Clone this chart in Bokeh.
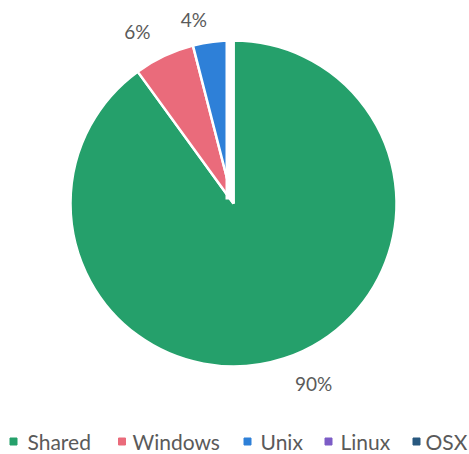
import math
from bokeh.plotting import figure
from bokeh.models import Range1d, ColumnDataSource
from bokeh.core.properties import value
from bokeh.embed import file_html
from bokeh.resources import INLINE

categories = ["Shared", "Windows", "Unix", "Linux", "OSX"]
shares = [90, 6, 4, 0, 0]
labels = ["90%", "6%", "4%", "", ""]
colors = ["#25a06b", "#ea6b7b", "#2e80d8", "#7c5cc6", "#28587f"]

W, H = 469, 454
cx, cy, R = 233, 251, 163
FONT = "Lato"
TXT = "#5a5a5a"

p = figure(width=W, height=H, output_backend="svg", toolbar_location=None,
           x_range=Range1d(0, W), y_range=Range1d(0, H), min_border=0)
p.axis.visible = False
p.grid.visible = False
p.outline_line_color = None
p.background_fill_color = "white"
p.border_fill_color = "white"

total = float(sum(shares))
starts, ends, cols, cats = [], [], [], []
acc = 0.0
mids = []
for c, v, col in zip(categories, shares, colors):
    a0 = math.pi / 2 - 2 * math.pi * acc / total
    acc += v
    a1 = math.pi / 2 - 2 * math.pi * acc / total
    mids.append((a0 + a1) / 2)
    if v > 0:
        starts.append(a0); ends.append(a1); cols.append(col); cats.append(c)

src = ColumnDataSource(dict(x=[cx] * len(cats), y=[cy] * len(cats), s=starts, e=ends, c=cols))
p.wedge(x="x", y="y", radius=R, start_angle="s", end_angle="e", direction="clock",
        fill_color="c", line_color="white", line_width=2.5, source=src)

# white gap at the 12 o'clock start (zero-size Linux/OSX slices)
p.segment(x0=[cx - 4], y0=[cy + 4], x1=[cx - 4], y1=[cy + R + 2], line_color="white", line_width=8)

# data labels (best-fit offsets: angle shift in degrees, radial distance)
lab_shift = [6, 4, 5, 0, 0]
lab_dist = [197, 197, 188, 0, 0]
lx, ly, lt = [], [], []
for m, sh, d, t in zip(mids, lab_shift, lab_dist, labels):
    if t:
        a = m + math.radians(sh)
        lx.append(cx + d * math.cos(a)); ly.append(cy + d * math.sin(a)); lt.append(t)
p.text(x=lx, y=ly, text=lt, text_align="center", text_baseline="middle",
       text_font=value(FONT), text_font_size="19px", text_color=TXT)

# legend
leg_sq_x = [13, 121.5, 247, 328, 416]
leg_tx_x = [27, 132, 260, 340, 425]
leg_y = 13
p.scatter(x=leg_sq_x, y=[leg_y] * 5, marker="square", size=7, color=colors)
p.text(x=leg_tx_x, y=[leg_y] * 5, text=categories, text_align="left", text_baseline="middle",
       text_font=value(FONT), text_font_size="21px", text_color=TXT)

open("out.html", "w").write(file_html(p, INLINE))
